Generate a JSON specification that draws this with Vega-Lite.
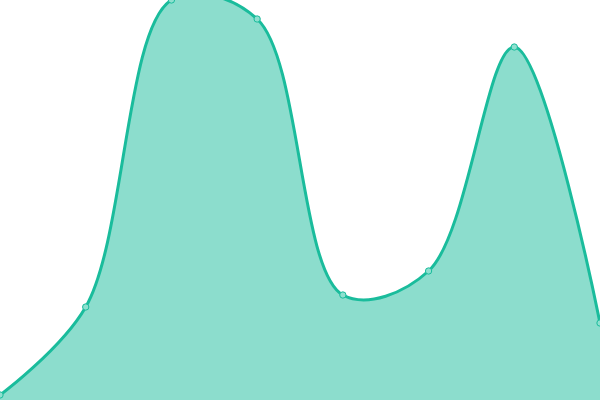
{
  "$schema": "https://vega.github.io/schema/vega-lite/v6.json",
  "width": 600,
  "height": 400,
  "autosize": "none",
  "padding": 0,
  "background": "white",
  "data": {
    "values": [
      {"i": 0, "v": 5},
      {"i": 1, "v": 93},
      {"i": 2, "v": 400},
      {"i": 3, "v": 381},
      {"i": 4, "v": 105},
      {"i": 5, "v": 129},
      {"i": 6, "v": 353},
      {"i": 7, "v": 77}
    ]
  },
  "encoding": {
    "x": {"field": "i", "type": "quantitative", "scale": {"domain": [0, 7], "nice": false, "zero": false}, "axis": null},
    "y": {"field": "v", "type": "quantitative", "scale": {"domain": [0, 400], "nice": false}, "axis": null}
  },
  "layer": [
    {"mark": {"type": "area", "interpolate": "catmull-rom", "color": "#1abc9c", "opacity": 0.5}},
    {"mark": {"type": "line", "interpolate": "catmull-rom", "color": "#1abc9c", "strokeWidth": 3}},
    {"mark": {"type": "point", "filled": true, "size": 40, "fill": "#8ee0cf", "stroke": "#1abc9c", "strokeWidth": 1, "opacity": 1}}
  ],
  "config": {"view": {"stroke": null}}
}
